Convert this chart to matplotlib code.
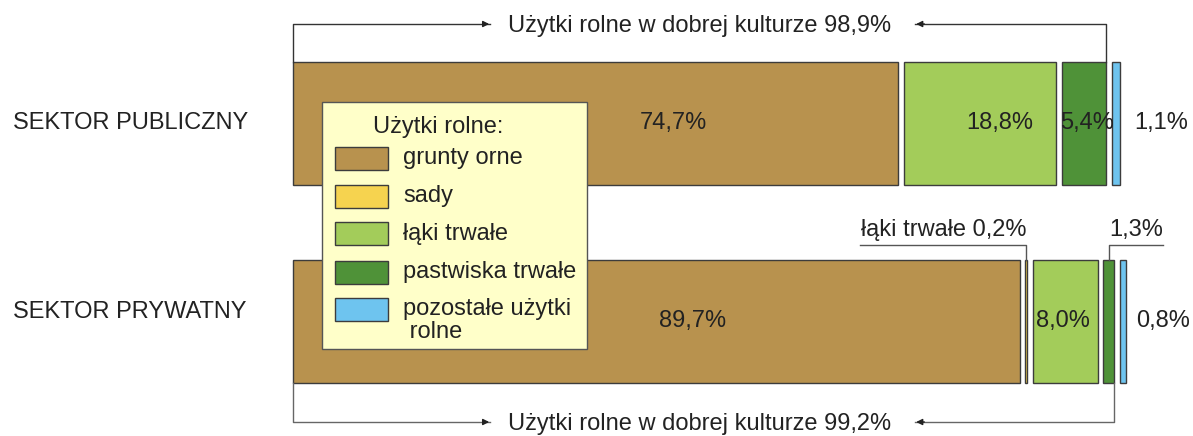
import matplotlib
matplotlib.use('Agg')
import matplotlib.pyplot as plt
from matplotlib.patches import Rectangle

plt.rcParams['font.family'] = ['Liberation Sans', 'DejaVu Sans']

# data
sectors = ['SEKTOR PUBLICZNY', 'SEKTOR PRYWATNY']
categories = ['grunty orne', 'sady', 'łąki trwałe', 'pastwiska trwałe', 'pozostałe użytki\n rolne']
public = [74.7, 0.0, 18.8, 5.4, 1.1]
private = [89.7, 0.2, 8.0, 1.3, 0.8]
good_culture = [98.9, 99.2]
colors = ['#B8924E', '#F6D34F', '#A3CC5A', '#4F9238', '#6EC4EF']
edge = '#3c3c3c'

W, H = 1193, 436
PX = 8.1      # px per percent
GAP = 0.72    # gap between segments, in percent units
BH = 0.62     # bar height

fig = plt.figure(figsize=(W / 100, H / 100), dpi=100)
ax = fig.add_axes([0, 0, 1, 1])
ax.set_xlim(-293 / PX, (W - 293) / PX)
ax.set_ylim(1 + (H - 321.5) / 198, -123.5 / 198)
ax.axis('off')

# bars, keep segment edges for annotations
edges = []
for i, vals in enumerate([public, private]):
    left = 0.0
    segs = []
    for v, c in zip(vals, colors):
        if v <= 0:
            segs.append(None)
            continue
        ax.barh(i, v, left=left, height=BH, color=c, edgecolor=edge, linewidth=1)
        segs.append((left, left + v))
        left += v + GAP
    edges.append(segs)

fs = 17
tc = '#222222'

# percent labels (x offsets in px from bar start)
pub_lbl = [(673, '74,7%'), (1000, '18,8%'), (1087, '5,4%'), (1161, '1,1%')]
prv_lbl = [(693, '89,7%'), (1063, '8,0%'), (1163, '0,8%')]
for i, labs in enumerate([pub_lbl, prv_lbl]):
    for px, t in labs:
        ax.text((px - 293) / PX, i, t, ha='center', va='center', fontsize=fs, color=tc)

# sector labels
fig.text(13 / W, 1 - 123 / H, sectors[0], ha='left', va='center', fontsize=fs, color=tc)
fig.text(13 / W, 1 - 312 / H, sectors[1], ha='left', va='center', fontsize=fs, color=tc)

def fmt(v):
    return ('%.1f' % v).replace('.', ',') + '%'

# brackets "Użytki rolne w dobrej kulturze"
for i, (yl, lc) in enumerate([(-0.5025, '#333333'), (1.5076, '#666666')]):
    ybar = i - BH / 2 if i == 0 else i + BH / 2
    xr = edges[i][3][1]
    ax.plot([0, 0, (490 - 293) / PX], [ybar, yl, yl], color=lc, lw=1)
    ax.annotate('', xy=((492 - 293) / PX, yl), xytext=((480 - 293) / PX, yl),
                arrowprops=dict(arrowstyle='-|>', color='#222222', lw=1, mutation_scale=9))
    xt = (915 - 293) / PX
    ax.plot([xr, xr, xt], [ybar, yl, yl], color=lc, lw=1)
    ax.annotate('', xy=(xt - 0.2, yl), xytext=(xt + 1.5, yl),
                arrowprops=dict(arrowstyle='-|>', color='#222222', lw=1, mutation_scale=9))
    ax.text((508 - 293) / PX, yl + 0.01, 'Użytki rolne w dobrej kulturze ' + fmt(good_culture[i]),
            ha='left', va='center', fontsize=fs, color=tc)

# callouts for the thin private segments
ytxt, yline, ytop = 1 + (230 - 321.5) / 198, 1 + (245 - 321.5) / 198, 1 - BH / 2
s = edges[1][1]
xs = (s[0] + s[1]) / 2
ax.plot([xs - 166 / PX, xs, xs], [yline, yline, ytop], color='#555555', lw=1)
ax.text(xs, ytxt, 'łąki trwałe ' + fmt(private[1]), ha='right', va='center', fontsize=fs, color=tc)
s = edges[1][3]
xs = (s[0] + s[1]) / 2
ax.plot([xs + 54 / PX, xs, xs], [yline, yline, ytop], color='#555555', lw=1)
ax.text(xs + 27 / PX, ytxt, fmt(private[3]), ha='center', va='center', fontsize=fs, color=tc)

# legend drawn by hand
def fx(px):
    return px / W

def fy(py):
    return 1 - py / H

fig.patches.append(Rectangle((fx(322), fy(349)), fx(587) - fx(322), fy(102) - fy(349),
                             transform=fig.transFigure, facecolor='#FFFFC9',
                             edgecolor='#555555', lw=1, zorder=5))
fig.text(fx(373), fy(127), 'Użytki rolne:', ha='left', va='center', fontsize=fs, color=tc, zorder=6)
rows = [158, 196, 234, 272, 309]
for c, lab, py in zip(colors, categories, rows):
    fig.patches.append(Rectangle((fx(335), fy(py + 11.5)), fx(388) - fx(335), 23 / H,
                                 transform=fig.transFigure, facecolor=c, edgecolor=edge,
                                 lw=1, zorder=6))
    for k, line in enumerate(lab.split('\n')):
        fig.text(fx(403), fy(py + 23 * k), line, ha='left', va='center',
                 fontsize=fs, color=tc, zorder=6)

fig.savefig('out.png', dpi=100)
